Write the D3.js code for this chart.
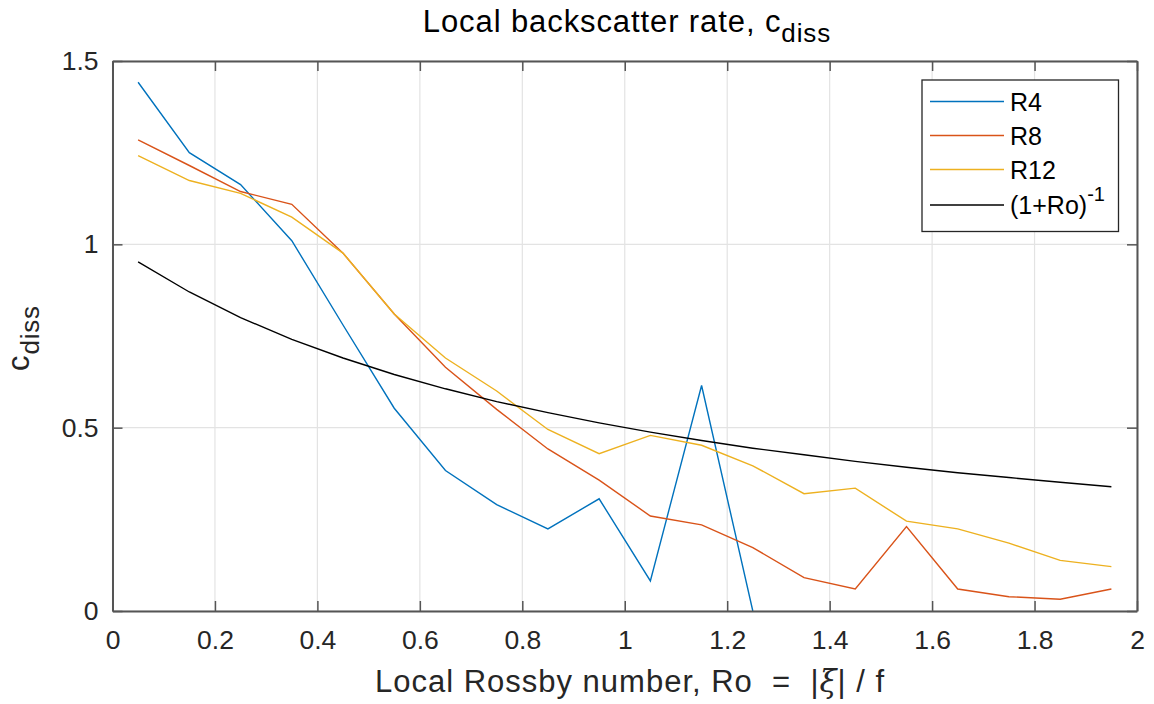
<!DOCTYPE html>
<html><head><meta charset="utf-8">
<script src="https://cdn.jsdelivr.net/npm/d3@7"></script>
<style>body{margin:0;background:#fff;} text{font-family:"Liberation Sans",Arial,Helvetica,sans-serif;}</style>
</head><body><svg id="c" width="1154" height="704"></svg>
<script>
const ro = [0.05,0.15,0.25,0.35,0.45,0.55,0.65,0.75,0.85,0.95,1.05,1.15,1.25,1.35,1.45,1.55,1.65,1.75,1.85,1.95];
const r4 = [1.442,1.250,1.163,1.010,0.780,0.553,0.383,0.290,0.224,0.306,0.082,0.615,0.0,null,null,null,null,null,null,null];
const r8 = [1.285,1.215,1.144,1.109,0.976,0.810,0.665,0.550,0.442,0.357,0.259,0.235,0.173,0.091,0.060,0.230,0.060,0.039,0.032,0.060];
const r12 = [1.242,1.174,1.139,1.074,0.976,0.810,0.690,0.600,0.495,0.429,0.479,0.452,0.396,0.320,0.335,0.245,0.224,0.185,0.138,0.121];
const inv = [0.952,0.870,0.800,0.741,0.690,0.645,0.606,0.571,0.541,0.513,0.488,0.465,0.444,0.426,0.408,0.392,0.377,0.364,0.351,0.339];
const xTicks = [0,0.2,0.4,0.6,0.8,1,1.2,1.4,1.6,1.8,2];
const yTicks = [0,0.5,1,1.5];
const seriesNames = ["R4","R8","R12","(1+Ro)"];
const colors = ["#0072BD","#D95319","#EDB120","#000000"];

const svg = d3.select("#c");
const L=112.5, R=1137, T=61, B=611;
const x = d3.scaleLinear().domain([0,2]).range([L,R]);
const y = d3.scaleLinear().domain([0,1.5]).range([B,T]);
const axisCol="#262626", boxCol="#555", gridCol="#e3e3e3";

svg.append("g").selectAll("line").data(xTicks).join("line")
  .attr("x1",d=>x(d)).attr("x2",d=>x(d)).attr("y1",T).attr("y2",B)
  .attr("stroke",gridCol).attr("stroke-width",1.2);
svg.append("g").selectAll("line").data(yTicks).join("line")
  .attr("x1",L).attr("x2",R).attr("y1",d=>y(d)).attr("y2",d=>y(d))
  .attr("stroke",gridCol).attr("stroke-width",1.2);

svg.append("clipPath").attr("id","clip").append("rect").attr("x",L).attr("y",T).attr("width",R-L).attr("height",B-T);

const line = d3.line().defined(d=>d[1]!==null).x(d=>x(d[0])).y(d=>y(d[1]));
const all = [r4,r8,r12,inv];
const gl = svg.append("g").attr("clip-path","url(#clip)");
all.forEach((s,i)=>{
  gl.append("path").datum(ro.map((r,j)=>[r,s[j]]))
    .attr("d",line).attr("fill","none").attr("stroke",colors[i]).attr("stroke-width",1.4);
});

const fs = 26.5;
const ax = svg.append("g").attr("transform",`translate(0,${B})`)
  .call(d3.axisBottom(x).tickValues(xTicks).tickFormat(d3.format("~g")).tickSizeInner(-10).tickSizeOuter(0).tickPadding(19));
const ay = svg.append("g").attr("transform",`translate(${L},0)`)
  .call(d3.axisLeft(y).tickValues(yTicks).tickFormat(d3.format("~g")).tickSizeInner(-10).tickSizeOuter(0).tickPadding(14));
const at = svg.append("g").attr("transform",`translate(0,${T})`)
  .call(d3.axisTop(x).tickValues(xTicks).tickFormat("").tickSizeInner(-10).tickSizeOuter(0));
const ar = svg.append("g").attr("transform",`translate(${R},0)`)
  .call(d3.axisRight(y).tickValues(yTicks).tickFormat("").tickSizeInner(-10).tickSizeOuter(0));
[ax,ay,at,ar].forEach(g=>{
  g.select(".domain").attr("stroke",boxCol).attr("stroke-width",2);
  g.selectAll(".tick line").attr("stroke",boxCol).attr("stroke-width",1.5);
  g.selectAll(".tick text").attr("fill",axisCol).attr("font-size",fs);
});

const title = svg.append("text").attr("x",627).attr("y",32).attr("text-anchor","middle")
  .attr("font-size",31).attr("letter-spacing",0.9).attr("fill","#000");
title.append("tspan").text("Local backscatter rate, c");
title.append("tspan").attr("font-size",26).attr("dy",10).text("diss");

const xl = svg.append("text").attr("x",630).attr("y",692).attr("text-anchor","middle")
  .attr("font-size",31).attr("letter-spacing",1).attr("fill",axisCol).style("white-space","pre");
xl.append("tspan").text("Local Rossby number, Ro  =  |");
xl.append("tspan").attr("font-family","DejaVu Serif, serif").attr("font-style","italic").text("ξ");
xl.append("tspan").text("| / f");

const yl = svg.append("text").attr("transform","translate(29,338) rotate(-90)").attr("text-anchor","middle")
  .attr("font-size",31).attr("letter-spacing",0.8).attr("fill",axisCol);
yl.append("tspan").text("c");
yl.append("tspan").attr("font-size",26).attr("dy",10).text("diss");

const lg = svg.append("g");
lg.append("rect").attr("x",922).attr("y",80).attr("width",196.5).attr("height",151.5)
  .attr("fill","#fff").attr("stroke","#262626").attr("stroke-width",1.3);
const rowsY=[101.5,135.5,169.5,205];
seriesNames.forEach((n,i)=>{
  lg.append("line").attr("x1",930).attr("x2",1004).attr("y1",rowsY[i]).attr("y2",rowsY[i])
    .attr("stroke",colors[i]).attr("stroke-width",1.4);
  const t = lg.append("text").attr("x",1010).attr("y",rowsY[i]+9).attr("font-size",25).attr("fill","#000").text(n);
  if(i===3){ t.append("tspan").attr("font-size",20).attr("dy",-13).text("-1"); }
});
</script></body></html>
